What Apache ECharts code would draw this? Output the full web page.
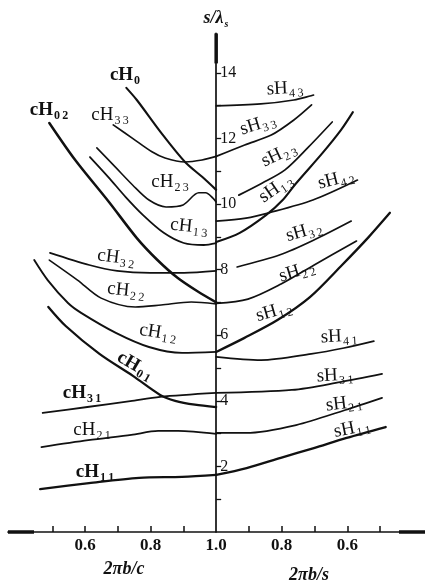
<!DOCTYPE html>
<html>
<head>
<meta charset="utf-8">
<script src="https://cdn.jsdelivr.net/npm/echarts@6/dist/echarts.min.js"></script>
<style>
html,body{margin:0;padding:0;background:#fff}
#c{width:425px;height:585px}
</style>
</head>
<body>
<div id="c"></div>
<script>
// c-modes: points are [2πb/c, s/λs]
const cH0  = [[0.726,13.54],[0.758,13.17],[0.833,12.16],[0.905,11.28],[0.958,10.82],[1.0,10.43]];
const cH02 = [[0.491,12.47],[0.570,11.34],[0.673,10.06],[0.758,8.96],[0.820,8.30],[0.882,7.75],[0.944,7.33],[1.0,7.0]];
const cH33 = [[0.686,12.41],[0.745,12.0],[0.804,11.59],[0.844,11.40],[0.905,11.28],[0.957,11.34],[1.0,11.45]];
const cH23 = [[0.636,11.71],[0.692,11.13],[0.745,10.58],[0.795,10.12],[0.847,9.91],[0.899,9.97],[0.947,10.34],[0.968,10.34],[0.990,10.18],[1.0,10.06]];
const cH13 = [[0.615,11.43],[0.671,10.82],[0.724,10.21],[0.777,9.66],[0.840,9.12],[0.901,8.81],[0.962,8.75],[1.0,8.81]];
const cH32 = [[0.493,8.51],[0.613,8.14],[0.698,7.96],[0.799,7.90],[0.902,7.90],[1.0,7.96]];
const cH22 = [[0.491,8.29],[0.577,7.68],[0.649,7.13],[0.753,6.86],[0.832,6.92],[0.924,7.01],[1.0,6.95]];
const cH12 = [[0.445,8.29],[0.486,7.68],[0.548,6.98],[0.588,6.68],[0.694,6.07],[0.795,5.64],[0.896,5.46],[1.0,5.49]];
const cH01 = [[0.488,6.86],[0.541,6.28],[0.644,5.43],[0.746,4.76],[0.829,4.18],[0.875,4.00],[0.935,3.88],[1.0,3.81]];
const cH31 = [[0.471,3.63],[0.607,3.81],[0.738,3.99],[0.829,4.12],[1.0,4.24]];
const cH21 = [[0.467,2.59],[0.610,2.80],[0.741,2.96],[0.823,3.08],[0.884,3.08],[1.0,2.99]];
const cH11 = [[0.463,1.31],[0.612,1.49],[0.765,1.65],[0.896,1.68],[1.0,1.74]];

// s-modes: points are [2πb/s, s/λs]
const sH43 = [[1.0,12.99],[0.864,13.05],[0.763,13.17],[0.703,13.32]];
const sH33 = [[1.0,11.45],[0.913,11.80],[0.832,12.10],[0.763,12.56],[0.709,13.02]];
const sH23 = [[0.931,10.27],[0.859,10.64],[0.790,11.04],[0.721,11.71],[0.646,12.5]];
const sH13 = [[1.0,8.84],[0.928,9.12],[0.848,9.66],[0.797,10.12],[0.758,10.61],[0.676,11.55],[0.619,12.26],[0.583,12.80]];
const sH42 = [[1.0,9.48],[0.909,9.57],[0.839,9.73],[0.705,10.12],[0.569,10.73]];
const sH32 = [[0.936,8.08],[0.805,8.45],[0.702,8.90],[0.588,9.48]];
const sH22 = [[1.0,6.97],[0.903,7.10],[0.802,7.56],[0.701,8.14],[0.572,8.87]];
const sH12 = [[1.0,5.49],[0.915,5.91],[0.813,6.46],[0.714,7.16],[0.616,8.14],[0.535,8.99],[0.470,9.73]];
const sH41 = [[1.0,5.34],[0.863,5.24],[0.710,5.43],[0.610,5.61],[0.519,5.82]];
const sH31 = [[1.0,4.24],[0.769,4.33],[0.622,4.57],[0.494,4.82]];
const sH21 = [[1.0,3.02],[0.909,3.02],[0.756,3.26],[0.606,3.72],[0.494,4.09]];
const sH11 = [[1.0,1.74],[0.907,1.95],[0.803,2.26],[0.702,2.56],[0.602,2.87],[0.483,3.20]];

// axis ticks
const cTicks = [0.5,0.6,0.7,0.8,0.9];
const sTicks = [0.9,0.8,0.7,0.6,0.5];
const cTickLabels = [0.6,0.8,1.0];
const sTickLabels = [0.8,0.6];
const yTicks = [1,2,3,4,5,6,7,8,9,10,11,12,13,14];
const yTickLabels = [2,4,6,8,10,12,14];

// The horizontal axis is folded at 1.0: c-side to the left, s-side to the right.
const foldC = x => x - 1;
const foldS = x => 1 - x;

const FONT = '"Liberation Serif","DejaVu Serif",serif';
const INK = '#111';

const curves = [
  {d: cH0, f: foldC, w: 2.1},  {d: cH02, f: foldC, w: 2.5}, {d: cH33, f: foldC, w: 1.7},
  {d: cH23, f: foldC, w: 1.6}, {d: cH13, f: foldC, w: 1.8}, {d: cH32, f: foldC, w: 1.7},
  {d: cH22, f: foldC, w: 1.6}, {d: cH12, f: foldC, w: 1.9}, {d: cH01, f: foldC, w: 2.3},
  {d: cH31, f: foldC, w: 1.9}, {d: cH21, f: foldC, w: 1.8}, {d: cH11, f: foldC, w: 2.3},
  {d: sH43, f: foldS, w: 1.7}, {d: sH33, f: foldS, w: 1.7}, {d: sH23, f: foldS, w: 1.7},
  {d: sH13, f: foldS, w: 2.1}, {d: sH42, f: foldS, w: 1.7}, {d: sH32, f: foldS, w: 1.7},
  {d: sH22, f: foldS, w: 1.7}, {d: sH12, f: foldS, w: 2.3}, {d: sH41, f: foldS, w: 1.7},
  {d: sH31, f: foldS, w: 1.7}, {d: sH21, f: foldS, w: 1.7}, {d: sH11, f: foldS, w: 2.3}
];

const series = curves.map(c => ({
  type: 'line',
  data: c.d.map(p => [c.f(p[0]), p[1]]).sort((a, b) => a[0] - b[0]),
  showSymbol: false,
  smooth: 0.3,
  silent: true,
  lineStyle: {color: INK, width: c.w, cap: 'round', join: 'round'}
}));

// curve names: [prefix, subscript, x, y, rotation, bold]
const curveLabels = [
  ['c','0',125,76,0,true],
  ['c','0\u20092',49,111,0,true],
  ['c','3\u20093',110,116,0,false],
  ['c','2\u20093',170,183,0,false],
  ['c','1\u20093',189,227,-0.1,false],
  ['c','3\u20092',116,258,-0.12,false],
  ['c','2\u20092',126,291,-0.1,false],
  ['c','1\u20092',158,333,-0.15,false],
  ['c','0\u20091',135,366,-0.52,true],
  ['c','3\u20091',82,394,0,true],
  ['c','2\u20091',92,431,0,false],
  ['c','1\u20091',95,473,0,true],
  ['s','4\u20093',285,89,0.05,false],
  ['s','3\u20093',258,125,0.3,false],
  ['s','2\u20093',279,155,0.44,false],
  ['s','1\u20093',276,189,0.6,false],
  ['s','4\u20092',336,180,0.25,false],
  ['s','3\u20092',304,232,0.28,false],
  ['s','2\u20092',297,272,0.3,false],
  ['s','1\u20092',274,312,0.28,false],
  ['s','4\u20091',339,337,0.05,false],
  ['s','3\u20091',335,376,0.05,false],
  ['s','2\u20091',344,404,0.12,false],
  ['s','1\u20091',352,429,0.2,false]
];

const graphics = curveLabels.map(l => ({
  type: 'text',
  x: l[2], y: l[3], rotation: l[4],
  silent: true,
  style: {
    text: '{m|' + l[0] + 'H}{s|' + l[1] + '}',
    align: 'center', verticalAlign: 'middle',
    rich: {
      m: {fontFamily: FONT, fontSize: 19, fontWeight: l[5] ? 'bold' : 'normal', fill: INK, lineHeight: 20, verticalAlign: 'top'},
      s: {fontFamily: FONT, fontSize: 12, fontWeight: l[5] ? 'bold' : 'normal', fill: INK, lineHeight: 12, padding: [9, 0, 0, 1], verticalAlign: 'top'}
    }
  }
}));

graphics.push(
  {type: 'text', x: 216, y: 19, silent: true, style: {
    text: '{a|s/λ}{b|s}', align: 'center', verticalAlign: 'middle',
    rich: {
      a: {fontFamily: FONT, fontSize: 18, fontStyle: 'italic', fontWeight: 'bold', fill: INK, lineHeight: 19, verticalAlign: 'top'},
      b: {fontFamily: FONT, fontSize: 10, fontStyle: 'italic', fontWeight: 'bold', fill: INK, lineHeight: 10, padding: [10, 0, 0, 1], verticalAlign: 'top'}
    }}},
  {type: 'text', x: 124, y: 569, silent: true, style: {
    text: '2πb/c', align: 'center', verticalAlign: 'middle',
    font: 'italic bold 18px ' + FONT, fill: INK}},
  {type: 'text', x: 309, y: 575, silent: true, style: {
    text: '2πb/s', align: 'center', verticalAlign: 'middle',
    font: 'italic bold 18px ' + FONT, fill: INK}}
);

const xTickPos = cTicks.map(foldC).concat(sTicks.map(foldS));
const xLabelPos = cTickLabels.map(foldC).concat(sTickLabels.map(foldS));

const chart = echarts.init(document.getElementById('c'), null, {renderer: 'canvas'});
chart.setOption({
  animation: false,
  backgroundColor: '#fff',
  grid: {left: 8, right: 0, top: 33.4, bottom: 53, containLabel: false},
  xAxis: {
    type: 'value', min: -0.635, max: 0.637,
    splitLine: {show: false},
    axisLine: {onZero: false, lineStyle: {color: INK, width: 1.7},
      symbol: ['rect', 'rect'], symbolSize: [3.5, 26], symbolOffset: [13, -13]},
    axisTick: {inside: true, length: 6, customValues: xTickPos, lineStyle: {color: INK, width: 1.5}},
    axisLabel: {customValues: xLabelPos, margin: 5, color: INK,
      fontFamily: FONT, fontSize: 17, fontWeight: 'bold',
      formatter: v => (1 - Math.abs(v)).toFixed(1)}
  },
  yAxis: [
    {
      type: 'value', min: 0, max: 15.2,
      splitLine: {show: false},
      axisLine: {onZero: true, lineStyle: {color: INK, width: 1.7},
        symbol: ['none', 'rect'], symbolSize: [3.5, 30], symbolOffset: [0, -15]},
      axisTick: {inside: true, length: 5, customValues: yTicks, lineStyle: {color: INK, width: 1.3}},
      axisLabel: {show: false}
    },
    {
      type: 'value', min: 0, max: 15.2,
      splitLine: {show: false},
      axisLine: {show: false, onZero: true},
      axisTick: {inside: false, length: 5, customValues: yTicks, lineStyle: {color: INK, width: 1.3}},
      axisLabel: {show: false}
    }
  ],
  series: series,
  graphic: graphics
});

// s/λs tick labels sit just to the right of the folded vertical axis
const yLabelGraphics = yTickLabels.map(v => {
  const p = chart.convertToPixel({xAxisIndex: 0, yAxisIndex: 0}, [0, v]);
  return {type: 'text', x: p[0] + 4, y: p[1], silent: true,
    style: {text: String(v), align: 'left', verticalAlign: 'middle',
      font: '16px ' + FONT, fill: INK}};
});
chart.setOption({graphic: graphics.concat(yLabelGraphics)});
</script>
</body>
</html>
